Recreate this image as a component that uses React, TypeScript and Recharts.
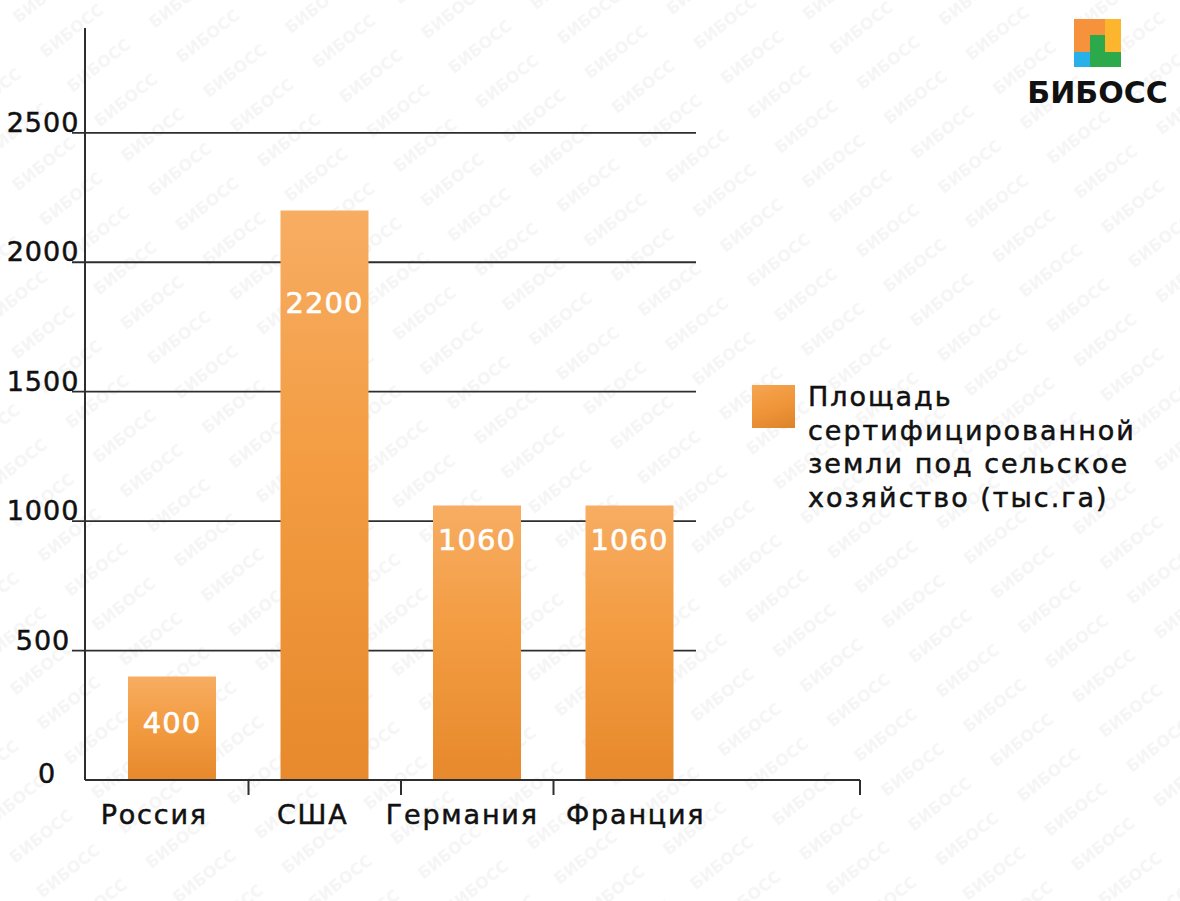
import React from "react"
import { BarChart, Bar, XAxis, YAxis, CartesianGrid, Legend, LabelList } from "recharts"

// data
const categories = ["Россия", "США", "Германия", "Франция"]
const areaValues = [400, 2200, 1060, 1060]
const yTicks = [0, 500, 1000, 1500, 2000, 2500]
const seriesName = "Площадь\nсертифицированной\nземли под сельское\nхозяйство (тыс.га)"

const data = categories.map((country, i) => ({ country, area: areaValues[i] }))

// layout
const W = 1180
const H = 901
const PLOT_LEFT = 85
const PLOT_RIGHT = 860
const PLOT_TOP = 28
const PLOT_BOTTOM = 780
const Y_AXIS_W = 80
const X_AXIS_H = 60
const PAD_LEFT = 11
const PAD_RIGHT = 154
const BAND = (PLOT_RIGHT - PLOT_LEFT - PAD_LEFT - PAD_RIGHT) / categories.length
const GRID_START = 72
const GRID_END = 696
const LINE = "#2e2e2e"
const FONT = "'DejaVu Sans', sans-serif"

// label baseline distance below each bar top, and small horizontal nudges of the category names
const labelOffsets = [57, 103, 44, 44]
const nameNudges = [-18, -12, -15, 6]

const YTick = (props: any) => {
  const { y, payload } = props
  const v = payload.value
  return (
    <text
      x={v === 0 ? 47 : 43}
      y={v === 0 ? y + 3 : y - 1}
      textAnchor="middle"
      fontSize={27}
      fill="#111"
      stroke="#111"
      strokeWidth={0.5}
      letterSpacing={1}
      fontFamily={FONT}
    >
      {v}
    </text>
  )
}

const XTick = (props: any) => {
  const { x, payload, index } = props
  const tickX = index === categories.length - 1 ? PLOT_RIGHT : x + BAND / 2
  return (
    <g>
      <line x1={tickX} x2={tickX} y1={PLOT_BOTTOM} y2={PLOT_BOTTOM + 15} stroke={LINE} strokeWidth={2} />
      <text
        x={x + nameNudges[index]}
        y={PLOT_BOTTOM + 44}
        textAnchor="middle"
        fontSize={27}
        fill="#111"
        stroke="#111"
        strokeWidth={0.5}
        fontFamily={FONT}
        letterSpacing={1.8}
      >
        {payload.value}
      </text>
    </g>
  )
}

const gridLine = (props: any) => {
  if (props.y1 >= PLOT_BOTTOM - 1 || props.y1 <= PLOT_TOP + 1) return <g key={`h-${props.index}`} />
  return (
    <line
      key={`h-${props.index}`}
      x1={GRID_START}
      x2={GRID_END}
      y1={props.y1}
      y2={props.y2}
      stroke={LINE}
      strokeWidth={1.8}
    />
  )
}

const BarValue = (props: any) => {
  const { x, y, width, value, index } = props
  return (
    <text
      x={x + width / 2}
      y={y + labelOffsets[index]}
      textAnchor="middle"
      fontSize={29}
      fill="#fff"
      stroke="#fff"
      strokeWidth={0.6}
      letterSpacing={1}
      fontFamily={FONT}
    >
      {value}
    </text>
  )
}

const LegendBox = (props: any) => {
  const item = props.payload && props.payload[0]
  return (
    <div style={{ display: "flex", alignItems: "flex-start", fontFamily: FONT }}>
      <div
        style={{
          width: 43,
          height: 43,
          marginTop: 5,
          marginRight: 13,
          background: "linear-gradient(160deg, #f5a652 0%, #ef9437 55%, #dc822a 100%)",
        }}
      />
      <div
        style={{
          whiteSpace: "pre-line",
          fontSize: 27,
          lineHeight: "33.5px",
          color: "#111",
          letterSpacing: 2,
          WebkitTextStroke: "0.5px #111",
        }}
      >
        {item ? item.value : ""}
      </div>
    </div>
  )
}

const Watermark = () => (
  <svg width={W} height={H} style={{ position: "absolute", left: 0, top: 0 }}>
    <defs>
      <pattern id="wm" width={104} height={44} patternUnits="userSpaceOnUse" patternTransform="rotate(-38)">
        <text x={0} y={30} fontSize={16} fontWeight="bold" fill="#f5f5f5" fontFamily={FONT}>
          БИБОСС
        </text>
      </pattern>
    </defs>
    <rect width={W} height={H} fill="url(#wm)" />
  </svg>
)

const Logo = () => (
  <svg width={W} height={H} style={{ position: "absolute", left: 0, top: 0, pointerEvents: "none" }}>
    <rect x={1074} y={19} width={31} height={33} fill="#f6923c" />
    <rect x={1105} y={19} width={16} height={33} fill="#fbb62d" />
    <rect x={1090} y={35} width={15} height={32} fill="#2ca94a" />
    <rect x={1090} y={52} width={31} height={15} fill="#2ca94a" />
    <rect x={1074} y={52} width={16} height={15} fill="#28b1e8" />
    <text x={1097.5} y={103} textAnchor="middle" fontSize={30} fontWeight="bold" fill="#111" fontFamily={FONT}>
      БИБОСС
    </text>
  </svg>
)

export default function App() {
  return (
    <div style={{ position: "absolute", left: 0, top: 0, width: W, height: H, background: "#fff", fontFamily: FONT }}>
      <Watermark />
      <div style={{ position: "absolute", left: 0, top: 0 }}>
        <BarChart
          width={W}
          height={H}
          data={data}
          margin={{
            top: PLOT_TOP,
            left: PLOT_LEFT - Y_AXIS_W,
            right: W - PLOT_RIGHT,
            bottom: H - PLOT_BOTTOM - X_AXIS_H,
          }}
        >
          <defs>
            <linearGradient id="barGrad" x1="0" y1="0" x2="0" y2="1">
              <stop offset="0%" stopColor="#f7ad62" />
              <stop offset="45%" stopColor="#f39c42" />
              <stop offset="100%" stopColor="#e7892c" />
            </linearGradient>
          </defs>
          <CartesianGrid vertical={false} horizontal={gridLine} />
          <XAxis
            dataKey="country"
            height={X_AXIS_H}
            padding={{ left: PAD_LEFT, right: PAD_RIGHT }}
            axisLine={{ stroke: LINE, strokeWidth: 2 }}
            tickLine={false}
            tick={<XTick />}
            interval={0}
          />
          <YAxis
            width={Y_AXIS_W}
            domain={[0, 2905]}
            ticks={yTicks}
            axisLine={{ stroke: LINE, strokeWidth: 2 }}
            tickLine={false}
            tick={<YTick />}
            interval={0}
          />
          <Legend
            layout="horizontal"
            verticalAlign="middle"
            align="center"
            content={<LegendBox />}
            wrapperStyle={{ left: 752, top: 380, width: 420 }}
          />
          <Bar dataKey="area" name={seriesName} fill="url(#barGrad)" barSize={88} isAnimationActive={false}>
            <LabelList dataKey="area" content={<BarValue />} />
          </Bar>
        </BarChart>
      </div>
      <Logo />
    </div>
  )
}
